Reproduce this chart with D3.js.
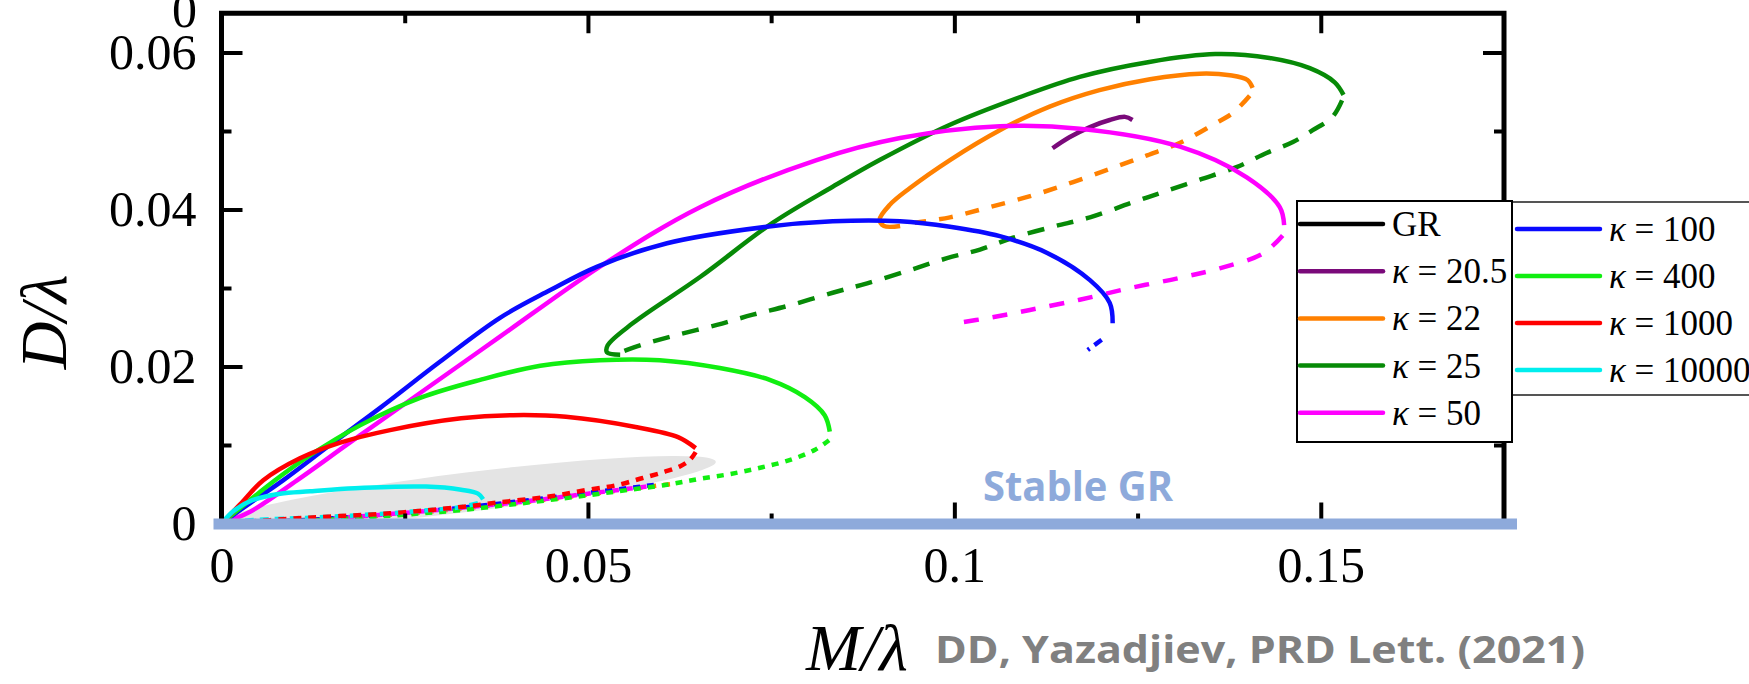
<!DOCTYPE html>
<html>
<head>
<meta charset="utf-8">
<script src="https://cdn.jsdelivr.net/npm/d3@7"></script>
<style>
  body { margin: 0; background: #fff; }
  svg { display: block; }
</style>
</head>
<body>
<script>
// ---- data: [M/lambda, D/lambda] ----
const xTicks = [0, 0.05, 0.1, 0.15];
const yTicks = [0, 0.02, 0.04, 0.06];

const k205Solid = [[0.1134,0.0478],[0.1157,0.0492],[0.1185,0.0505],[0.1212,0.0514],[0.1233,0.0518],[0.1243,0.0514]];

const k22Solid = [[0.0926,0.0379],[0.0904,0.0379],[0.0898,0.0387],[0.0912,0.0406],[0.0939,0.0427],[0.0994,0.0463],[0.1062,0.0501],[0.1130,0.0531],[0.1198,0.0552],[0.1267,0.0566],[0.1335,0.0573],[0.1376,0.0571],[0.1400,0.0565],[0.1407,0.0555]];
const k22Dashed = [[0.1403,0.0545],[0.1380,0.0523],[0.1353,0.0508],[0.1308,0.0485],[0.1263,0.0469],[0.1216,0.0453],[0.1162,0.0435],[0.1107,0.0418],[0.1048,0.0403],[0.0994,0.0390],[0.0946,0.0383]];
const k22Bottom = [[0.0612,0.0050],[0.0557,0.0044],[0.0500,0.0037],[0.0422,0.0028],[0.0327,0.0019],[0.0230,0.0011],[0.0107,0.0004],[0,0]];

const k25Solid = [[0.0544,0.0215],[0.0526,0.0218],[0.0527,0.0227],[0.0561,0.0255],[0.0653,0.0314],[0.0752,0.0383],[0.0834,0.0429],[0.0898,0.0463],[0.0994,0.0508],[0.1089,0.0543],[0.1171,0.0569],[0.1266,0.0588],[0.1356,0.0598],[0.1430,0.0593],[0.1485,0.0580],[0.1519,0.0562],[0.1531,0.0546]];
const k25Dashed = [[0.1529,0.0539],[0.1516,0.0518],[0.1489,0.0501],[0.1462,0.0486],[0.1426,0.0472],[0.1385,0.0454],[0.1335,0.0438],[0.1284,0.0422],[0.1240,0.0408],[0.1185,0.0390],[0.1134,0.0378],[0.1080,0.0364],[0.1035,0.0349],[0.0990,0.0338],[0.0940,0.0323],[0.0881,0.0306],[0.0834,0.0294],[0.0776,0.0278],[0.0725,0.0266],[0.0676,0.0253],[0.0621,0.0240],[0.0571,0.0227],[0.0544,0.0218]];

const k50Solid = [[0,0],[0.0039,0.0015],[0.0103,0.0055],[0.0175,0.0103],[0.0257,0.0157],[0.0380,0.0238],[0.0516,0.0327],[0.0653,0.0403],[0.0812,0.0463],[0.0926,0.0491],[0.1062,0.0506],[0.1171,0.0503],[0.1308,0.0480],[0.1399,0.0441],[0.1444,0.0403],[0.1450,0.0380]];
const k50Dashed = [[0.1448,0.0367],[0.1421,0.0344],[0.1362,0.0325],[0.1308,0.0313],[0.1240,0.0300],[0.1171,0.0285],[0.1103,0.0272],[0.1048,0.0262],[0.1001,0.0255]];
const k50Bottom = [[0.0580,0.0047],[0.0500,0.0038],[0.0422,0.0029],[0.0327,0.0020],[0.0230,0.0012],[0.0107,0.0004],[0,0]];

const k100Solid = [[0,0],[0.0039,0.0026],[0.0084,0.0055],[0.0148,0.0100],[0.0216,0.0147],[0.0298,0.0206],[0.0380,0.0262],[0.0448,0.0297],[0.0512,0.0327],[0.0608,0.0357],[0.0744,0.0378],[0.0834,0.0385],[0.0926,0.0385],[0.0994,0.0378],[0.1062,0.0366],[0.1126,0.0345],[0.1185,0.0310],[0.1212,0.0281],[0.1216,0.0255]];
const k100Dashed = [[0.1201,0.0234],[0.1182,0.0221]];
const k100Bottom = [[0.0590,0.0049],[0.0500,0.0039],[0.0422,0.0030],[0.0327,0.0020],[0.0230,0.0012],[0.0107,0.0004],[0,0]];

const k400Solid = [[0,0],[0.0039,0.0030],[0.0073,0.0055],[0.0121,0.0087],[0.0189,0.0125],[0.0271,0.0160],[0.0353,0.0183],[0.0435,0.0201],[0.0516,0.0208],[0.0598,0.0208],[0.0680,0.0198],[0.0748,0.0183],[0.0796,0.0161],[0.0823,0.0138],[0.0830,0.0117]];
const k400Dashed = [[0.0829,0.0106],[0.0810,0.0094],[0.0776,0.0081],[0.0735,0.0071],[0.0694,0.0063],[0.0653,0.0057],[0.0612,0.0050],[0.0557,0.0043],[0.0500,0.0036],[0.0421,0.0027],[0.0325,0.0017],[0.0230,0.0010],[0.0107,0.0003],[0,0]];

const k1000Solid = [[0,0],[0.0025,0.0024],[0.0057,0.0055],[0.0107,0.0083],[0.0162,0.0103],[0.0230,0.0119],[0.0327,0.0134],[0.0398,0.0138],[0.0470,0.0136],[0.0565,0.0123],[0.0623,0.0110],[0.0647,0.0096]];
const k1000Dashed = [[0.0647,0.0091],[0.0639,0.0081],[0.0626,0.0073],[0.0605,0.0066],[0.0575,0.0058],[0.0540,0.0049],[0.0500,0.0043],[0.0452,0.0035],[0.0380,0.0027],[0.0327,0.0021],[0.0230,0.0013],[0.0111,0.0007],[0,0]];

const k10000Solid = [[0,0],[0.0018,0.0017],[0.0043,0.0030],[0.0080,0.0038],[0.0121,0.0041],[0.0182,0.0045],[0.0279,0.0047],[0.0327,0.0043],[0.0350,0.0038],[0.0357,0.0031]];
const k10000Dashed = [[0.0350,0.0026],[0.0327,0.0021],[0.0271,0.0016],[0.0230,0.0013],[0.0134,0.0008],[0.0039,0.0004],[0,0]];

const legendLeft = ["GR", "20.5", "22", "25", "50"];
const legendRight = ["100", "400", "1000", "10000"];
const colors = {
  "GR": "#000000", "20.5": "#7a0a7a", "22": "#ff8000", "25": "#078a07", "50": "#ff00ff",
  "100": "#0a0aff", "400": "#11ee11", "1000": "#ff0000", "10000": "#00eeee"
};

// shaded region (centre, half length in M, half width in D, tilt)
const shade = { m: 0.0337, d: 0.0040, halfM: 0.0340, halfD: 0.0025, tilt: -7 };

document.addEventListener("DOMContentLoaded", () => {
  const width = 1749, height = 684;
  const svg = d3.select("body").append("svg").attr("width", width).attr("height", height);

  const x = d3.scaleLinear().domain([0, 0.175]).range([221.5, 1504]);
  const y = d3.scaleLinear().domain([0, 0.065]).range([523.5, 13.25]);
  const serif = "'Liberation Serif', 'Times New Roman', serif";
  const sans = "'Open Sans', 'DejaVu Sans', sans-serif";

  // grey stable band
  svg.append("ellipse")
    .attr("cx", x(shade.m)).attr("cy", y(shade.d))
    .attr("rx", x(shade.halfM) - x(0)).attr("ry", y(0) - y(shade.halfD))
    .attr("transform", `rotate(${shade.tilt},${x(shade.m)},${y(shade.d)})`)
    .attr("fill", "#e4e4e4");

  const line = d3.line().x(d => x(d[0])).y(d => y(d[1])).curve(d3.curveCatmullRom);

  const draw = (pts, key, dash) => {
    svg.append("path")
      .attr("d", line(pts))
      .attr("fill", "none")
      .attr("stroke", colors[key])
      .attr("stroke-width", 4.5)
      .attr("stroke-dasharray", dash || null);
  };

  // low dashed bundle
  draw(k22Bottom, "22", "7,7");
  draw(k50Bottom, "50", "7,7");
  draw(k100Bottom, "100", "7,7");
  draw(k400Dashed, "400", "7,7");
  draw(k10000Dashed, "10000", "9,6");
  draw(k1000Dashed, "1000", "8,7");

  // upper branches
  draw(k205Solid, "20.5");
  draw(k22Solid, "22");
  draw(k22Dashed, "22", "14,13");
  draw(k25Solid, "25");
  draw(k25Dashed, "25", "17,13");
  draw(k50Solid, "50");
  draw(k50Dashed, "50", "15,14");
  draw(k100Solid, "100");
  draw(k100Dashed, "100", "9,6");
  draw(k400Solid, "400");
  draw(k1000Solid, "1000");
  draw(k10000Solid, "10000");

  // axes
  const fmt = d => (d === 0 ? "0" : String(d));
  const styleAxis = g => {
    g.select(".domain").remove();
    g.selectAll(".tick line").attr("stroke", "#000").attr("stroke-width", 4);
    g.selectAll(".tick text").attr("font-family", serif).attr("font-size", 50).attr("fill", "#000");
  };
  const xMinor = [0.025, 0.075, 0.125];
  const yMinor = [0.01, 0.03, 0.05];

  svg.append("g").attr("transform", `translate(0,${y(0)})`)
    .call(d3.axisBottom(x).tickValues(xTicks).tickFormat(fmt).tickSizeInner(-21).tickSizeOuter(0).tickPadding(23))
    .call(styleAxis);
  svg.append("g").attr("transform", `translate(0,${y(0)})`)
    .call(d3.axisBottom(x).tickValues(xMinor).tickFormat("").tickSizeInner(-10).tickSizeOuter(0))
    .call(styleAxis);
  svg.append("g").attr("transform", `translate(0,${y(0.065)})`)
    .call(d3.axisTop(x).tickValues(xTicks.slice(1)).tickFormat("").tickSizeInner(-20).tickSizeOuter(0))
    .call(styleAxis);
  svg.append("g").attr("transform", `translate(0,${y(0.065)})`)
    .call(d3.axisTop(x).tickValues(xMinor).tickFormat("").tickSizeInner(-10).tickSizeOuter(0))
    .call(styleAxis);
  svg.append("g").attr("transform", `translate(${x(0)},0)`)
    .call(d3.axisLeft(y).tickValues(yTicks).tickFormat(fmt).tickSizeInner(-21).tickSizeOuter(0).tickPadding(25))
    .call(styleAxis);
  svg.append("g").attr("transform", `translate(${x(0)},0)`)
    .call(d3.axisLeft(y).tickValues(yMinor).tickFormat("").tickSizeInner(-10).tickSizeOuter(0))
    .call(styleAxis);
  svg.append("g").attr("transform", `translate(${x(0.175)},0)`)
    .call(d3.axisRight(y).tickValues(yTicks.slice(1)).tickFormat("").tickSizeInner(-21).tickSizeOuter(0))
    .call(styleAxis);
  svg.append("g").attr("transform", `translate(${x(0.175)},0)`)
    .call(d3.axisRight(y).tickValues(yMinor).tickFormat("").tickSizeInner(-10).tickSizeOuter(0))
    .call(styleAxis);

  // frame
  svg.append("rect")
    .attr("x", x(0)).attr("y", y(0.065))
    .attr("width", x(0.175) - x(0)).attr("height", y(0) - y(0.065))
    .attr("fill", "none").attr("stroke", "#000").attr("stroke-width", 5);

  // clipped label at the very top (from panel above)
  svg.append("text").text("0")
    .attr("x", 197).attr("y", 27).attr("text-anchor", "end")
    .attr("font-family", serif).attr("font-size", 50);

  // stable GR band along D = 0
  svg.append("rect")
    .attr("x", x(0) - 8).attr("y", y(0) - 5)
    .attr("width", x(0.175) - x(0) + 21).attr("height", 11)
    .attr("fill", "#8eaadb");
  svg.append("text").text("Stable GR")
    .attr("x", 983).attr("y", 501)
    .attr("font-family", sans).attr("font-weight", "bold").attr("font-size", 41)
    .attr("textLength", 190).attr("lengthAdjust", "spacingAndGlyphs")
    .attr("fill", "#8eaadb");

  // axis titles
  svg.append("text")
    .attr("transform", "translate(66,322) rotate(-90)")
    .attr("text-anchor", "middle")
    .attr("font-family", serif).attr("font-style", "italic").attr("font-size", 66)
    .text("D/λ");
  svg.append("text")
    .attr("x", 806).attr("y", 670)
    .attr("font-family", serif).attr("font-style", "italic").attr("font-size", 66)
    .text("M/λ");
  svg.append("text")
    .attr("x", 935).attr("y", 663)
    .attr("font-family", sans).attr("font-weight", "bold").attr("font-size", 37)
    .attr("textLength", 650).attr("lengthAdjust", "spacingAndGlyphs")
    .attr("fill", "#808080")
    .text("DD, Yazadjiev, PRD Lett. (2021)");

  // legends
  const legendBlock = (names, box, border, lineX, rowY) => {
    const g = svg.append("g");
    g.append("rect")
      .attr("x", box[0]).attr("y", box[1]).attr("width", box[2]).attr("height", box[3])
      .attr("fill", "#fff").attr("stroke", border).attr("stroke-width", 2);
    names.forEach((name, i) => {
      const yy = rowY[0] + i * rowY[1];
      g.append("line")
        .attr("x1", lineX).attr("x2", lineX + 83).attr("y1", yy).attr("y2", yy)
        .attr("stroke", colors[name]).attr("stroke-width", 4.5).attr("stroke-linecap", "round");
      const t = g.append("text")
        .attr("x", lineX + 92).attr("y", yy + 12)
        .attr("font-family", serif).attr("font-size", 35);
      if (name === "GR") {
        t.text("GR");
      } else {
        t.append("tspan").attr("font-style", "italic").text("κ");
        t.append("tspan").text(" = " + name);
      }
    });
  };
  legendBlock(legendRight, [1512, 202, 260, 193], "#555", 1517, [229, 47]);
  legendBlock(legendLeft, [1297, 201, 215, 241], "#000", 1300, [224, 47.2]);
});
</script>
</body>
</html>
